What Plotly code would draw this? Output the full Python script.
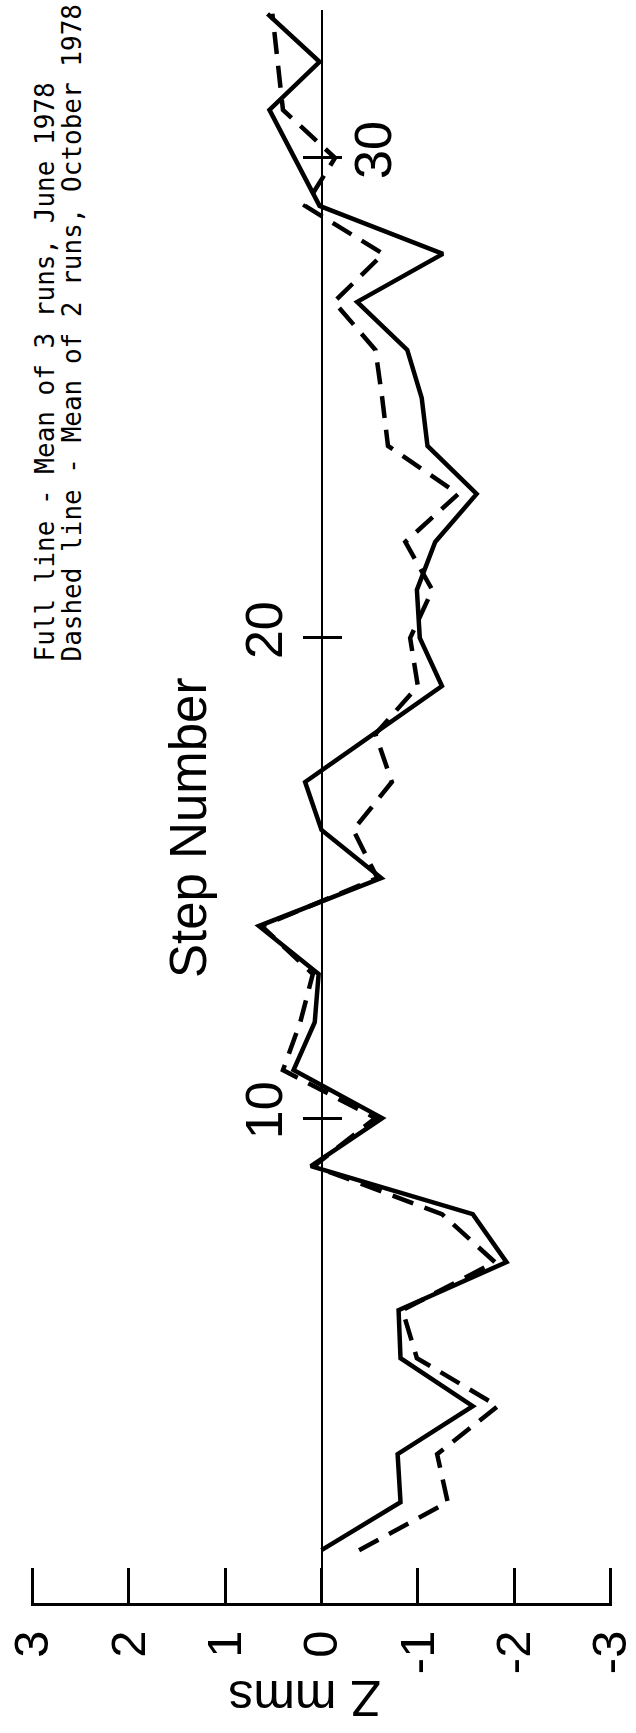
import plotly.graph_objects as go

# ---- data ----
steps = list(range(1, 34))
full_line = [0.0, -0.82, -0.79, -1.57, -0.82, -0.80, -1.92, -1.57, 0.11, -0.63,
             0.29, 0.07, 0.03, 0.65, -0.62, 0.0, 0.17, -0.55, -1.25, -1.02,
             -0.99, -1.18, -1.61, -1.10, -1.04, -0.89, -0.37, -1.26, 0.02, 0.28,
             0.54, 0.02, 0.56]
dashed_line = [-0.39, -1.31, -1.20, -1.83, -0.99, -0.84, -1.80, -1.25, 0.08, -0.56,
               0.40, 0.22, 0.09, 0.62, -0.58, -0.33, -0.73, -0.56, -1.00, -0.92,
               -1.15, -0.87, -1.42, -0.69, -0.63, -0.56, -0.13, -0.64, 0.17, -0.14,
               0.40, 0.45, 0.51]
z_ticks = [3, 2, 1, 0, -1, -2, -3]
z_labels = ["3", "2", "1", "0", "-1", "-2", "-3"]
step_ticks = [10, 20, 30]
step_labels_left = ["10", "20", ""]
step_labels_right = ["", "", "30"]
legend_full = "Full line - Mean of 3 runs, June 1978"
legend_dashed = "Dashed line - Mean of 2 runs, October 1978"

W, H = 636, 1733
ML, MR, MT, MB = 31, 24, 10, 130
PW, PH = W - ML - MR, H - MT - MB


def px(x):
    return (x - ML) / PW


def py(y):
    return (H - MB - y) / PH


fig = go.Figure()
fig.add_trace(go.Scatter(x=full_line, y=steps, mode="lines",
                         line=dict(color="black", width=4.5),
                         showlegend=False, yaxis="y"))
fig.add_trace(go.Scatter(x=dashed_line, y=steps, mode="lines",
                         line=dict(color="black", width=4.5, dash="22px,12px"),
                         showlegend=False, yaxis="y2"))

yr = [-0.1, 33.08]
tickfont = dict(family="Liberation Sans", size=52, color="black")
ztickfont = dict(family="Liberation Sans", size=49, color="black")

fig.update_layout(
    width=W, height=H,
    margin=dict(l=ML, r=MR, t=MT, b=MB, pad=0, autoexpand=False),
    paper_bgcolor="white", plot_bgcolor="white",
    font=dict(family="Liberation Sans", color="black"),
    xaxis=dict(range=[3.015, -3.015], tickvals=z_ticks, ticktext=z_labels,
               ticks="inside", ticklen=35, tickwidth=2.5, tickcolor="black",
               showline=True, linewidth=3, linecolor="black",
               showgrid=False, zeroline=False, tickangle=-90,
               tickfont=ztickfont, ticklabelstandoff=5, automargin=False,
               ticklabeloverflow="allow"),
    yaxis=dict(range=yr, anchor="free", position=0.5, side="left",
               tickvals=step_ticks, ticktext=step_labels_left,
               ticks="inside", ticklen=19, tickwidth=2.5, tickcolor="black",
               showline=True, linewidth=2, linecolor="black",
               showgrid=False, zeroline=False, tickangle=-90,
               tickfont=tickfont, ticklabelstandoff=18, automargin=False),
    yaxis2=dict(range=yr, anchor="free", position=0.5, side="right",
                overlaying="y",
                tickvals=step_ticks, ticktext=step_labels_right,
                ticks="inside", ticklen=19, tickwidth=2.5, tickcolor="black",
                showline=False, showgrid=False, zeroline=False, tickangle=-90,
                tickfont=tickfont, ticklabelstandoff=16, automargin=False),
)

ann = []
ann.append(dict(text="Z mms", x=px(305), y=py(1698), xref="paper", yref="paper",
                xanchor="center", yanchor="middle", textangle=180, showarrow=False,
                font=dict(family="Liberation Sans", size=50, color="black")))
ann.append(dict(text="Step Number", x=px(188), y=py(828), xref="paper", yref="paper",
                xanchor="center", yanchor="middle", textangle=-90, showarrow=False,
                font=dict(family="Liberation Sans", size=51, color="black")))
ann.append(dict(text=legend_full, x=px(45), y=py(664), xref="paper", yref="paper",
                xanchor="center", yanchor="bottom", textangle=-90, showarrow=False,
                font=dict(family="DejaVu Sans Mono", size=26, color="black")))
ann.append(dict(text=legend_dashed, x=px(72), y=py(664), xref="paper", yref="paper",
                xanchor="center", yanchor="bottom", textangle=-90, showarrow=False,
                font=dict(family="DejaVu Sans Mono", size=26, color="black")))
fig.update_layout(annotations=ann)

fig.write_html(
    "out.html",
    config={"displayModeBar": False},
    post_script="document.body.style.margin='0';document.body.style.overflow='hidden';",
)
